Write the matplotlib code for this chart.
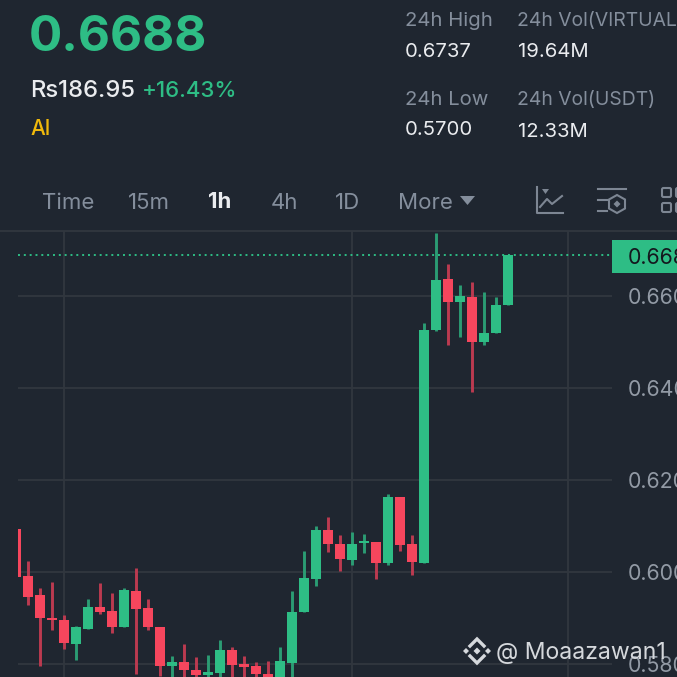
import matplotlib
matplotlib.use("Agg")
import matplotlib.pyplot as plt
from matplotlib.patches import Polygon, FancyBboxPatch, Rectangle

BG = "#1f2630"
GRID = "#31373f"
GREEN = "#2ebd85"
RED = "#f6465d"
GREEN_WICK = "#2b9c73"
RED_WICK = "#bb3a50"
GRAY = "#848e9c"
TICK_GRAY = "#929aa5"
WHITE = "#eaecef"

# candles
opens = [0.6093, 0.5991, 0.5949, 0.5899, 0.5895, 0.5843, 0.5875, 0.5923, 0.5914, 0.5880, 0.5958,
         0.5921, 0.5880, 0.5795, 0.5804, 0.5786, 0.5775, 0.5780, 0.5830, 0.5799, 0.5795, 0.5778,
         0.5760, 0.5801, 0.5912, 0.5984, 0.6091, 0.6060, 0.6025, 0.6062, 0.6064, 0.6019, 0.6162,
         0.6060, 0.6019, 0.6525, 0.6636, 0.6586, 0.6597, 0.6499, 0.6519, 0.6580]
closes = [0.5988, 0.5945, 0.5899, 0.5895, 0.5845, 0.5880, 0.5923, 0.5912, 0.5880, 0.5960, 0.5919,
          0.5880, 0.5795, 0.5804, 0.5786, 0.5775, 0.5782, 0.5830, 0.5797, 0.5793, 0.5778, 0.5760,
          0.5806, 0.5912, 0.5986, 0.6091, 0.6060, 0.6028, 0.6060, 0.6067, 0.6019, 0.6162, 0.6058,
          0.6021, 0.6525, 0.6634, 0.6586, 0.6599, 0.6499, 0.6519, 0.6580, 0.6688]
highs = [0.6093, 0.6023, 0.5964, 0.5978, 0.5906, 0.5882, 0.5941, 0.5975, 0.5954, 0.5964, 0.6008,
         0.5941, 0.5880, 0.5817, 0.5843, 0.5815, 0.5819, 0.5851, 0.5836, 0.5817, 0.5804, 0.5806,
         0.5836, 0.5958, 0.6045, 0.6099, 0.6119, 0.6080, 0.6086, 0.6082, 0.6064, 0.6169, 0.6162,
         0.6080, 0.6541, 0.6736, 0.6669, 0.6623, 0.6630, 0.6608, 0.6597, 0.6688]
lows = [0.5988, 0.5928, 0.5795, 0.5873, 0.5832, 0.5808, 0.5875, 0.5908, 0.5867, 0.5880, 0.5778,
        0.5873, 0.5773, 0.5755, 0.5755, 0.5755, 0.5755, 0.5755, 0.5755, 0.5755, 0.5755, 0.5755,
        0.5755, 0.5755, 0.5912, 0.5969, 0.6043, 0.6001, 0.6014, 0.6041, 0.5984, 0.6014, 0.6045,
        0.5993, 0.6019, 0.6523, 0.6493, 0.6510, 0.6391, 0.6493, 0.6519, 0.6580]

y_ticks = [0.58, 0.60, 0.62, 0.64, 0.66]
y_tick_labels = ["0.5800", "0.6000", "0.6200", "0.6400", "0.6600"]
x_grid = [4, 28, 46]
last_price = 0.6688
tabs = ["Time", "15m", "1h", "4h", "1D", "More"]
tab_x = [42, 128, 208, 271, 335, 398]

plt.rcParams["font.family"] = ["Inter", "DejaVu Sans"]

fig = plt.figure(figsize=(6.77, 6.77), dpi=100, facecolor=BG)


def px_y(price):
    return 295.7 + (0.66 - price) * 4600


# chart area, pixel box 18..612 x 231..677
ax = fig.add_axes([18 / 677, 0, (612 - 18) / 677, (677 - 231) / 677], facecolor=BG)
ax.set_xlim((18 - 16) / 12, (612 - 16) / 12)
ax.set_ylim(0.66 - (677 - 295.7) / 4600, 0.66 + (295.7 - 231) / 4600)
for side in ax.spines.values():
    side.set_visible(False)
ax.set_xticks([])
ax.set_yticks([])

for p in y_ticks:
    ax.axhline(p, color=GRID, lw=1.3, zorder=1)
for i in x_grid:
    ax.axvline(i, color=GRID, lw=1.3, zorder=1)

for i in range(len(opens)):
    up = closes[i] >= opens[i]
    ax.vlines(i, lows[i], highs[i], color=GREEN_WICK if up else RED_WICK, lw=2.1, zorder=2)
    ax.bar(i, abs(closes[i] - opens[i]), bottom=min(opens[i], closes[i]), width=10 / 12,
           color=GREEN if up else RED, linewidth=0, zorder=3)

ax.axhline(last_price, color=GREEN, lw=1.4, linestyle=(0, (1, 2)), zorder=4)

# everything else is placed in pixels
top = fig.add_axes([0, 0, 1, 1])
top.set_xlim(0, 677)
top.set_ylim(677, 0)
top.axis("off")
top.patch.set_alpha(0)

top.plot([0, 677], [231, 231], color=GRID, lw=1.3, zorder=1)

top.text(29, 38, "0.6688", color=GREEN, fontsize=35.6, fontweight="bold", va="center")
top.text(30, 91, "Rs186.95", color=WHITE, fontsize=17.2, fontweight="medium", va="center")
top.text(142, 91, "+16.43%", color=GREEN, fontsize=16, fontweight="medium", va="center")
top.text(30, 129, "AI", color="#f0b90b", fontsize=15, fontweight="medium", va="center")

top.text(405, 21, "24h High", color=GRAY, fontsize=14.6, va="center")
top.text(517, 21, "24h Vol(VIRTUAL", color=GRAY, fontsize=13.9, va="center")
top.text(405, 52, "0.6737", color=WHITE, fontsize=14.6, va="center")
top.text(518, 52, "19.64M", color=WHITE, fontsize=14.6, va="center")
top.text(405, 100, "24h Low", color=GRAY, fontsize=14.6, va="center")
top.text(517, 100, "24h Vol(USDT)", color=GRAY, fontsize=13.9, va="center")
top.text(405, 130, "0.5700", color=WHITE, fontsize=14.6, va="center")
top.text(518, 132, "12.33M", color=WHITE, fontsize=14.6, va="center")

for name, x in zip(tabs, tab_x):
    if name == "1h":
        top.text(x, 202, name, color=WHITE, fontsize=16, fontweight="bold", va="center")
    else:
        top.text(x, 203, name, color=GRAY, fontsize=16, va="center")
top.add_patch(Polygon([(460, 196), (475, 196), (467.5, 205)], color=GRAY, lw=0))

# toolbar icons
ICON = "#7d8693"
top.plot([537, 537, 563], [187, 213, 213], color=ICON, lw=1.5)
top.add_patch(Polygon([(542, 189), (549, 189), (545.5, 194)], color=ICON, lw=0))
top.plot([540, 547, 552, 562], [207, 199, 204, 196], color=ICON, lw=1.5)
top.plot([598, 626], [189, 189], color=ICON, lw=1.5)
top.plot([598, 607], [200, 200], color=ICON, lw=1.5)
top.plot([598, 607], [211, 211], color=ICON, lw=1.5)
top.add_patch(Polygon([(617, 195), (625, 199.5), (625, 208.5), (617, 213), (609, 208.5), (609, 199.5)],
                      closed=True, fill=False, ec=ICON, lw=1.5))
top.add_patch(Polygon([(617, 200.5), (620.5, 204), (617, 207.5), (613.5, 204)], color=ICON, lw=0))
for (gx, gy) in [(662, 188), (662, 203), (676, 188), (676, 203)]:
    top.add_patch(FancyBboxPatch((gx, gy), 9, 9, boxstyle="round,pad=0,rounding_size=1.5",
                                 fill=False, ec=ICON, lw=1.5))

# price axis
for p, label in zip(y_ticks, y_tick_labels):
    top.text(628, px_y(p) + 2, label, color=TICK_GRAY, fontsize=15.4, va="center", zorder=5)
top.add_patch(Rectangle((612, 240), 65, 33, color=GREEN, lw=0, zorder=5))
top.text(628, 258, "0.6688", color="#14181e", fontsize=15.4, va="center", zorder=6)

# watermark
MARK = "#d5d8dc"
cx, cy = 477, 651
top.add_patch(Polygon([(cx, cy - 3.5), (cx + 3.5, cy), (cx, cy + 3.5), (cx - 3.5, cy)], color=MARK, lw=0, zorder=7))
top.add_patch(Polygon([(cx - 14, cy), (cx - 11, cy - 3), (cx - 8, cy), (cx - 11, cy + 3)], color=MARK, lw=0, zorder=7))
top.add_patch(Polygon([(cx + 14, cy), (cx + 11, cy - 3), (cx + 8, cy), (cx + 11, cy + 3)], color=MARK, lw=0, zorder=7))
top.plot([cx - 7, cx, cx + 7], [cy - 5, cy - 12, cy - 5], color=MARK, lw=2.4, solid_joinstyle="miter", zorder=7)
top.plot([cx - 7, cx, cx + 7], [cy + 5, cy + 12, cy + 5], color=MARK, lw=2.4, solid_joinstyle="miter", zorder=7)
top.text(496, 653, "@ Moaazawan1", color=MARK, fontsize=16.6, va="center", zorder=7)

fig.savefig("out.png", dpi=100, facecolor=BG)
plt.close(fig)
